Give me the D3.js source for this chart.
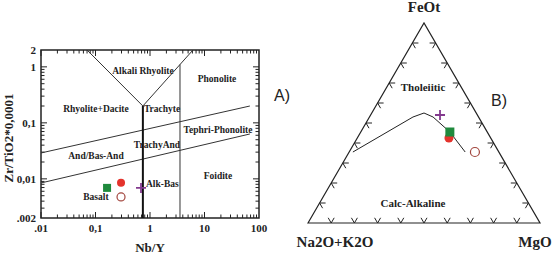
<!DOCTYPE html>
<html>
<head>
<meta charset="utf-8">
<script src="https://cdn.jsdelivr.net/npm/d3@7"></script>
<style>
  body { margin: 0; background: #fff; }
  svg text { font-family: "Liberation Serif", "Times New Roman", serif; font-weight: bold; fill: #222; }
</style>
</head>
<body>
<div id="chart"></div>
<script>
const width = 552;
const height = 254;

// samples: filled circle, open circle, square, plus
const sampleShape = ["circle", "ring", "square", "plus"];
const sampleColor = ["#e4332c", "#a2463e", "#1f8a3d", "#833a8e"];
const nbY = [0.294, 0.294, 0.163, 0.684];
const zrTi = [0.0085, 0.00475, 0.0069, 0.0069];
// AFM values (fractions)
const alk = [0.18, 0.103, 0.161, 0.161];
const feot = [0.425, 0.355, 0.455, 0.54];
const mgo = [0.395, 0.542, 0.384, 0.299];

// Nb/Y diagram tick labels
const xTickVals = [0.01, 0.1, 1, 10, 100];
const xTickText = [".01", "0,1", "1", "10", "100"];
const yTickVals = [0.002, 0.01, 0.1, 1, 2];
const yTickText = [".002", "0,01", "0,1", "1", "2"];

// field boundaries [Nb/Y, Zr/TiO2]
const vLeftArm = [[0.07, 2], [0.74, 0.2]];
const vRightArm = [[0.74, 0.2], [6.15, 2]];
const alkBasLine = [[0.74, 0.2], [0.74, 0.002]];
const foiditeLine = [[3.55, 1.1], [3.55, 0.002]];
const upperSlope = [[0.01, 0.029], [68, 0.2]];
const lowerSlope = [[0.01, 0.00845], [68, 0.0633]];

const fieldNames = ["Alkali Rhyolite", "Phonolite", "Rhyolite+Dacite", "Trachyte", "Tephri-Phonolite",
  "TrachyAnd", "And/Bas-And", "Foidite", "Basalt"];
const fieldX = [0.744, 17, 0.102, 1.66, 17.7, 1.34, 0.102, 17.7, 0.102];
const fieldY = [0.845, 0.608, 0.177, 0.177, 0.0747, 0.0403, 0.0256, 0.0117, 0.00475];

// Irvine & Baragar boundary (A, F, M)
const ibA = [0.629, 0.2825, 0.225, 0.196, 0.161, 0.145];
const ibF = [0.355, 0.53, 0.55, 0.53, 0.455, 0.355];
const ibM = [0.016, 0.1875, 0.225, 0.274, 0.384, 0.5];

const svg = d3.select("#chart").append("svg")
  .attr("width", width)
  .attr("height", height);

// ---------- A) Nb/Y vs Zr/TiO2 ----------
const x = d3.scaleLog().domain([0.01, 100]).range([41, 259]);
const y = d3.scaleLog().domain([0.002, 2]).range([218, 50]);

const gA = svg.append("g");

// minor + major ticks, inward on all four sides
const xTicks = [];
for (let d = 0.01; d < 100; d *= 10) {
  for (let k = 1; k < 10; k++) xTicks.push({ v: d * k, major: k === 1 });
}
const yTicks = [];
for (let d = 0.001; d < 2; d *= 10) {
  for (let k = 1; k < 10; k++) {
    const v = d * k;
    if (v > 0.002 && v < 2) yTicks.push({ v: v, major: k === 1 });
  }
}
xTicks.forEach(t => {
  const len = t.major ? 6 : 3.5;
  const px = x(t.v);
  gA.append("line").attr("x1", px).attr("x2", px).attr("y1", 218).attr("y2", 218 - len)
    .attr("stroke", "#222").attr("stroke-width", 1);
  gA.append("line").attr("x1", px).attr("x2", px).attr("y1", 50).attr("y2", 50 + len)
    .attr("stroke", "#222").attr("stroke-width", 1);
});
yTicks.forEach(t => {
  const len = t.major ? 6 : 3.5;
  const py = y(t.v);
  gA.append("line").attr("x1", 41).attr("x2", 41 + len).attr("y1", py).attr("y2", py)
    .attr("stroke", "#222").attr("stroke-width", 1);
  gA.append("line").attr("x1", 259).attr("x2", 259 - len).attr("y1", py).attr("y2", py)
    .attr("stroke", "#222").attr("stroke-width", 1);
});

gA.append("rect").attr("x", 41).attr("y", 50).attr("width", 218).attr("height", 168)
  .attr("fill", "none").attr("stroke", "#222").attr("stroke-width", 1.5);

const line = d3.line().x(d => x(d[0])).y(d => y(d[1]));
[vLeftArm, vRightArm, foiditeLine, upperSlope, lowerSlope].forEach(seg => {
  gA.append("path").attr("d", line(seg)).attr("fill", "none")
    .attr("stroke", "#333").attr("stroke-width", 1);
});
gA.append("path").attr("d", line(alkBasLine)).attr("fill", "none")
  .attr("stroke", "#111").attr("stroke-width", 2);

// tick labels
xTickVals.forEach((v, i) => {
  gA.append("text").attr("x", x(v)).attr("y", 232).attr("text-anchor", "middle")
    .attr("font-size", 11).text(xTickText[i]);
});
yTickVals.forEach((v, i) => {
  gA.append("text").attr("x", 36).attr("y", y(v) + 4).attr("text-anchor", "end")
    .attr("font-size", 11).text(yTickText[i]);
});
gA.append("text").attr("x", 150).attr("y", 252).attr("text-anchor", "middle")
  .attr("font-size", 13).text("Nb/Y");
gA.append("text").attr("transform", "translate(13,138) rotate(-90)").attr("text-anchor", "middle")
  .attr("font-size", 13).text("Zr/TiO2*0,0001");

fieldNames.forEach((name, i) => {
  gA.append("text").attr("x", x(fieldX[i])).attr("y", y(fieldY[i]) + 3.5)
    .attr("text-anchor", "middle").attr("font-size", 9.5).text(name);
});
gA.append("text").attr("x", x(0.845)).attr("y", y(0.0081) + 3.5)
  .attr("font-size", 9.5).text("Alk-Bas");

// ---------- B) AFM ternary ----------
const tx = d3.scaleLinear().domain([0, 1]).range([308, 540]);
const ty = d3.scaleLinear().domain([0, 1]).range([223, 23]);
const tern = (a, f, m) => [tx(m + f / 2), ty(f)];

const gB = svg.append("g");
const pA = tern(1, 0, 0), pF = tern(0, 1, 0), pM = tern(0, 0, 1);
gB.append("path").attr("d", d3.line()([pA, pF, pM, pA]) + "Z")
  .attr("fill", "none").attr("stroke", "#222").attr("stroke-width", 1.2);

// tick marks pointing into the triangle along the two other grid directions
const tl = 6;
const s3 = Math.sqrt(3) / 2;
for (let i = 1; i < 10; i++) {
  const t = i / 10;
  const left = tern(1 - t, t, 0);
  const right = tern(0, 1 - t, t);
  const base = tern(1 - t, 0, t);
  const segs = [
    [left, [left[0] + tl, left[1]]], [left, [left[0] + tl * 0.5, left[1] + tl * s3]],
    [right, [right[0] - tl, right[1]]], [right, [right[0] - tl * 0.5, right[1] + tl * s3]],
    [base, [base[0] - tl * 0.5, base[1] - tl * s3]], [base, [base[0] + tl * 0.5, base[1] - tl * s3]]
  ];
  segs.forEach(s => gB.append("path").attr("d", d3.line()(s))
    .attr("stroke", "#222").attr("stroke-width", 1));
}

const ibPts = ibA.map((a, i) => tern(a, ibF[i], ibM[i]));
gB.append("path").attr("d", d3.line()(ibPts)).attr("fill", "none")
  .attr("stroke", "#222").attr("stroke-width", 1);

gB.append("text").attr("x", pF[0]).attr("y", 12).attr("text-anchor", "middle")
  .attr("font-size", 15).text("FeOt");
gB.append("text").attr("x", 335).attr("y", 247).attr("text-anchor", "middle")
  .attr("font-size", 15).text("Na2O+K2O");
gB.append("text").attr("x", 535).attr("y", 247).attr("text-anchor", "middle")
  .attr("font-size", 15).text("MgO");
gB.append("text").attr("x", 423).attr("y", 91).attr("text-anchor", "middle")
  .attr("font-size", 11).text("Tholeiitic");
gB.append("text").attr("x", 413).attr("y", 207).attr("text-anchor", "middle")
  .attr("font-size", 11).text("Calc-Alkaline");

// panel letters
svg.append("text").attr("x", 274).attr("y", 101)
  .style("font-family", "'Liberation Sans', Arial, sans-serif").style("font-weight", "normal")
  .attr("font-size", 16).text("A)");
svg.append("text").attr("x", 491).attr("y", 106)
  .style("font-family", "'Liberation Sans', Arial, sans-serif").style("font-weight", "normal")
  .attr("font-size", 16).text("B)");

// ---------- sample markers ----------
function drawMarker(g, shape, color, cx, cy, big) {
  const r = big ? 4.5 : 4;
  if (shape === "circle") {
    g.append("circle").attr("cx", cx).attr("cy", cy).attr("r", r).attr("fill", color);
  } else if (shape === "ring") {
    g.append("circle").attr("cx", cx).attr("cy", cy).attr("r", r).attr("fill", "#fff")
      .attr("stroke", color).attr("stroke-width", 1.2);
  } else if (shape === "square") {
    const s = big ? 9 : 8;
    g.append("rect").attr("x", cx - s / 2).attr("y", cy - s / 2).attr("width", s).attr("height", s)
      .attr("fill", color);
  } else {
    const h = 5;
    g.append("path").attr("d", `M${cx - h},${cy}H${cx + h}M${cx},${cy - h}V${cy + h}`)
      .attr("stroke", color).attr("stroke-width", 1.8);
  }
}
sampleShape.forEach((shape, i) => {
  drawMarker(gA, shape, sampleColor[i], x(nbY[i]), y(zrTi[i]), false);
  const p = tern(alk[i], feot[i], mgo[i]);
  drawMarker(gB, shape, sampleColor[i], p[0], p[1], true);
});
</script>
</body>
</html>
